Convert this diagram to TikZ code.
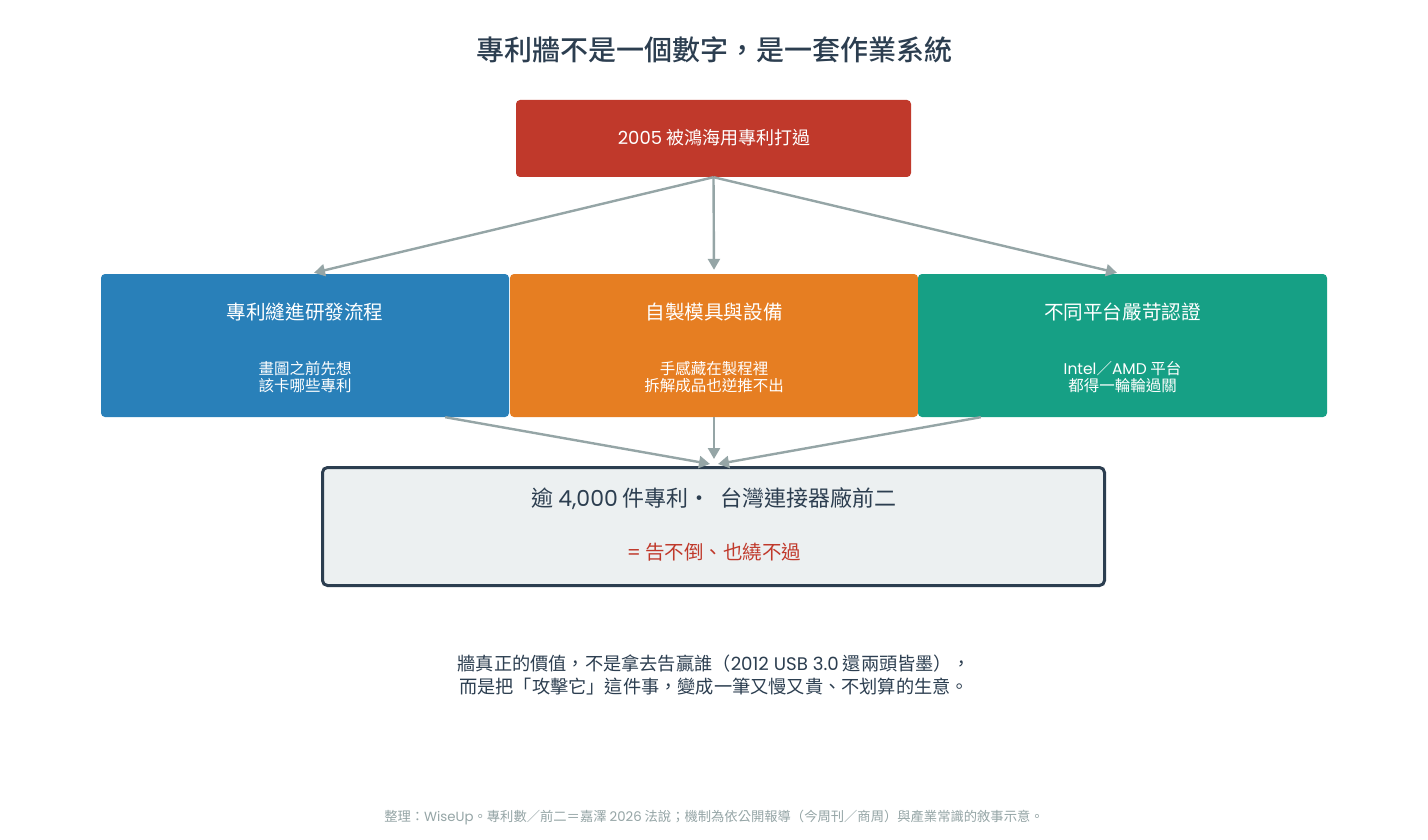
\documentclass[tikz,border=0pt]{standalone}
\usepackage{fontspec}
\setmainfont{Noto Sans CJK TC}
\newfontfamily\cjkmed{Noto Sans CJK TC Medium}
\newfontfamily\lat{Poppins}
\newcommand\ltn[1]{{\lat #1}}
\usetikzlibrary{arrows.meta,calc}
\definecolor{cdark}{HTML}{2C3E50}
\definecolor{cred}{HTML}{C0392B}
\definecolor{cblue}{HTML}{2980B9}
\definecolor{corange}{HTML}{E67E22}
\definecolor{cgreen}{HTML}{16A085}
\definecolor{cgray}{HTML}{95A5A6}
\definecolor{clight}{HTML}{ECF0F1}
\tikzset{
  box/.style={rounded corners=4pt, inner sep=0pt, draw=none},
  arr/.style={draw=cgray, line width=2.4pt, -{Triangle[length=11pt,width=12pt]}},
  ttl/.style={text=white, font=\fontsize{19.6}{23}\selectfont, inner sep=0pt},
  sub/.style={text=white, font=\fontsize{15.5}{17}\selectfont, align=center, inner sep=0pt},
}
\begin{document}
\begin{tikzpicture}[x=1pt,y=-1pt]
\path[use as bounding box, fill=white] (0,0) rectangle (1428,840);

\node[text=cdark, font=\fontsize{28}{32}\selectfont\cjkmed, inner sep=0pt] (title) at (714,50) {專利牆不是一個數字，是一套作業系統};

\node[box, fill=cred, minimum width=395pt, minimum height=77pt] (top) at (713.5,138.5) {};
\node[text=white, font=\fontsize{18}{22}\selectfont, inner sep=0pt] (toptext) at (714,138) {\ltn{2005} 被鴻海用專利打過};

\node[box, fill=cblue, minimum width=408pt, minimum height=143pt] (blue) at (305,345.5) {};
\node[box, fill=corange, minimum width=408pt, minimum height=143pt] (orange) at (714,345.5) {};
\node[box, fill=cgreen, minimum width=409pt, minimum height=143pt] (green) at (1122.5,345.5) {};

\node[ttl] (bt) at (305,312) {專利縫進研發流程};
\node[ttl] (ot) at (714,312) {自製模具與設備};
\node[ttl] (gt) at (1122.5,312) {不同平台嚴苛認證};

\node[sub] (bs) at (305,377) {畫圖之前先想\\該卡哪些專利};
\node[sub] (os) at (714,377) {手感藏在製程裡\\拆解成品也逆推不出};
\node[sub] (gs) at (1122.5,377) {\ltn{Intel}／\ltn{AMD} 平台\\都得一輪輪過關};

\node[rounded corners=5pt, fill=clight, draw=cdark, line width=3pt, minimum width=782pt, minimum height=118pt, inner sep=0pt] (res) at (713.5,526.5) {};
\node[text=cdark, font=\fontsize{22}{26}\selectfont, inner sep=0pt] (r1) at (714,499) {逾 \ltn{4,000} 件專利· \ 台灣連接器廠前二};
\node[text=cred, font=\fontsize{19.5}{23}\selectfont, inner sep=0pt] (r2) at (714,552) {\ltn{=} 告不倒、也繞不過};

\node[text=cdark, font=\fontsize{18.2}{23}\selectfont, align=center, inner sep=0pt] (note) at (714,675) {牆真正的價值，不是拿去告贏誰（\ltn{2012 USB 3.0} 還兩頭皆墨），\\而是把「攻擊它」這件事，變成一筆又慢又貴、不划算的生意。};

\node[text=cgray, font=\fontsize{13.3}{16}\selectfont, inner sep=0pt] (foot) at (714,818) {整理：\ltn{WiseUp}。專利數／前二＝嘉澤 \ltn{2026} 法說；機制為依公開報導（今周刊／商周）與產業常識的敘事示意。};

\draw[arr] (top.south) -- ($(blue.north)+(9,-1)$);
\draw[arr] (top.south) -- ($(orange.north)+(0,-4)$);
\draw[arr] (top.south) -- ($(green.north)+(-5.5,-1)$);

\draw[arr] ($(blue.south east)+(-64,0)$) -- ($(res.north)+(-3.5,-2)$);
\draw[arr] (orange.south) -- ($(res.north)+(0.5,-7)$);
\draw[arr] ($(green.south west)+(63,0)$) -- ($(res.north)+(4.5,-2)$);
\end{tikzpicture}
\end{document}
